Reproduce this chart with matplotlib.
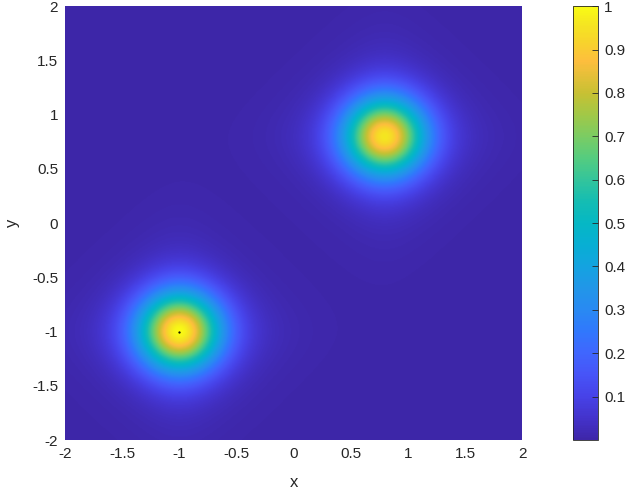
import numpy as np
import matplotlib
matplotlib.use("Agg")
import matplotlib.pyplot as plt
from matplotlib.colors import LinearSegmentedColormap

# peak centres, amplitudes and shape
centers_x = [-1.0, 0.8]
centers_y = [-1.0, 0.8]
amplitudes = [1.0, 0.96]
core_width = [0.35, 0.35]    # gaussian core
tail_width = [0.28, 0.28]    # sech(x)sech(y) diamond tail
tail_share = [0.25, 0.25]
x_ticks = [-2, -1.5, -1, -0.5, 0, 0.5, 1, 1.5, 2]
y_ticks = [-2, -1.5, -1, -0.5, 0, 0.5, 1, 1.5, 2]
cbar_ticks = [0.1, 0.2, 0.3, 0.4, 0.5, 0.6, 0.7, 0.8, 0.9, 1]

# approximate MATLAB parula (position, colour)
parula_pts = [
    (0.00, (0.2422, 0.1504, 0.6603)),
    (0.05, (0.2650, 0.2000, 0.8000)),
    (0.10, (0.2780, 0.2600, 0.9100)),
    (0.15, (0.2800, 0.3300, 0.9700)),
    (0.20, (0.2500, 0.4000, 0.9950)),
    (0.25, (0.1900, 0.4700, 0.9900)),
    (0.30, (0.1600, 0.5400, 0.9500)),
    (0.35, (0.1300, 0.5900, 0.9100)),
    (0.40, (0.0800, 0.6400, 0.8800)),
    (0.45, (0.0300, 0.6850, 0.8300)),
    (0.50, (0.0200, 0.7200, 0.7700)),
    (0.55, (0.0800, 0.7400, 0.7000)),
    (0.60, (0.2000, 0.7700, 0.6100)),
    (0.65, (0.3300, 0.8000, 0.5000)),
    (0.70, (0.4800, 0.8000, 0.3900)),
    (0.75, (0.6300, 0.7850, 0.2800)),
    (0.80, (0.7800, 0.7550, 0.2000)),
    (0.875, (0.9935, 0.7455, 0.2402)),
    (0.92, (0.9700, 0.8300, 0.1700)),
    (0.96, (0.9600, 0.9000, 0.1300)),
    (1.00, (0.9769, 0.9839, 0.0805)),
]
parula = LinearSegmentedColormap.from_list("parula", parula_pts, N=256)

plt.rcParams['font.family'] = ['Liberation Sans', 'DejaVu Sans']

g = np.linspace(-2, 2, 501)
X, Y = np.meshgrid(g, g)
Z = np.zeros_like(X)
for cx, cy, a, s, b, w in zip(centers_x, centers_y, amplitudes,
                              core_width, tail_width, tail_share):
    dx, dy = X - cx, Y - cy
    core = np.exp(-(dx ** 2 + dy ** 2) / s ** 2)
    tail = 1 / np.cosh(dx / b) / np.cosh(dy / b)
    Z += a * ((1 - w) * core + w * tail)

fig = plt.figure(figsize=(6.26, 4.93), dpi=100)
ax = fig.add_axes([0.104, 0.1075, 0.730, 0.880])
im = ax.imshow(Z, origin='lower', extent=[-2, 2, -2, 2], aspect='auto',
               cmap=parula, vmin=Z.min(), vmax=1.0, interpolation='bilinear')
ax.plot(centers_x[0], centers_y[0], 'k.', ms=1.2)
ax.set_xlim(-2, 2)
ax.set_ylim(-2, 2)
ax.set_xticks(x_ticks)
ax.set_yticks(y_ticks)
ax.set_xticklabels([f'{t:g}' for t in x_ticks])
ax.set_yticklabels([f'{t:g}' for t in y_ticks])
for s in ax.spines.values():
    s.set_visible(False)
ax.tick_params(length=0, labelsize=11, colors='#262626', pad=5)
ax.set_xlabel('x', fontsize=12, color='#262626', labelpad=10)
ax.set_ylabel('y', fontsize=12, color='#262626', labelpad=9)

cax = fig.add_axes([0.915, 0.1075, 0.041, 0.880])
cb = fig.colorbar(im, cax=cax, ticks=cbar_ticks)
cb.ax.set_yticklabels([f'{t:g}' for t in cbar_ticks])
cb.outline.set_edgecolor('#262626')
cb.outline.set_linewidth(0.6)
cb.ax.tick_params(direction='in', length=4, width=0.6, labelsize=11,
                  colors='#262626', pad=4)

fig.savefig('out.png', dpi=100)
